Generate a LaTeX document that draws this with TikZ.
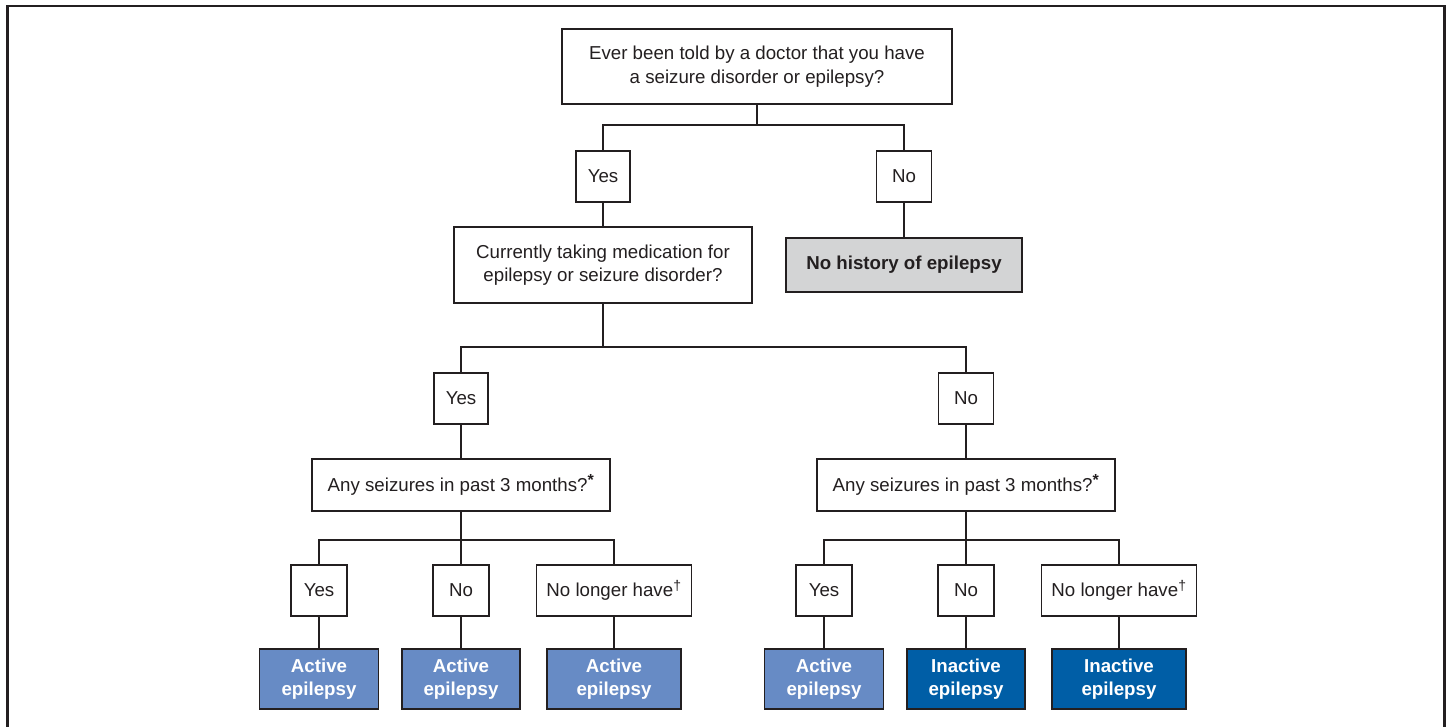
\documentclass[tikz,border=0pt]{standalone}
\usepackage{fontspec}
\setmainfont{Liberation Sans}
\definecolor{inkc}{RGB}{35,31,32}
\definecolor{actc}{RGB}{103,139,197}
\definecolor{inactc}{RGB}{0,94,166}
\definecolor{grayc}{RGB}{211,212,213}
\newcommand{\astmark}{\textsuperscript{\fontsize{16}{16}\selectfont\bfseries *}}
\newcommand{\dagmark}{\textsuperscript{\fontsize{14}{14}\selectfont †}}
\tikzset{
  box/.style={draw=inkc, line width=1.6pt, fill=white, text=inkc, inner sep=0pt, align=center,
    font=\fontsize{18.7}{23.5}\selectfont},
  actbox/.style={box, fill=actc, text=white, font=\fontsize{18.7}{22.5}\selectfont\bfseries},
  inactbox/.style={box, fill=inactc, text=white, font=\fontsize{18.7}{22.5}\selectfont\bfseries},
  graybox/.style={box, fill=grayc, font=\fontsize{18.7}{23.5}\selectfont\bfseries},
  conn/.style={draw=inkc, line width=1.6pt},
  frameline/.style={draw=inkc, line width=2.6pt}
}
\begin{document}
\begin{tikzpicture}[x=1pt,y=-1pt]
\useasboundingbox (0,0) rectangle (1447,727);
\fill[white] (0,0) rectangle (1447,727);
\draw[frameline] (7.3,727) -- (7.3,6) -- (1444.5,6) -- (1444.5,727);

% nodes
\node[box, minimum width=390pt, minimum height=75pt] (q1) at (757,66.5) {Ever been told by a doctor that you have\\a seizure disorder or epilepsy?};
\node[box, minimum width=54pt, minimum height=51pt] (y1) at (603,176.5) {Yes};
\node[box, minimum width=55pt, minimum height=51pt] (n1) at (904,176.5) {No};
\node[box, minimum width=298pt, minimum height=76pt] (q2) at (603,265) {Currently taking medication for\\epilepsy or seizure disorder?};
\node[graybox, minimum width=236pt, minimum height=54pt] (nh) at (904,265) {No history of epilepsy};
\node[box, minimum width=54pt, minimum height=51pt] (y2) at (461,398.5) {Yes};
\node[box, minimum width=55pt, minimum height=51pt] (n2) at (966,398.5) {No};
\node[box, minimum width=298pt, minimum height=52pt] (q3l) at (461,485) {Any seizures in past 3 months?\astmark};
\node[box, minimum width=298pt, minimum height=52pt] (q3r) at (966,485) {Any seizures in past 3 months?\astmark};

\node[box, minimum width=56pt, minimum height=51pt] (ly) at (319,590.5) {Yes};
\node[box, minimum width=56pt, minimum height=51pt] (ln) at (461,590.5) {No};
\node[box, minimum width=155pt, minimum height=51pt] (ll) at (614,590.5) {No longer have\dagmark};
\node[box, minimum width=56pt, minimum height=51pt] (ry) at (824,590.5) {Yes};
\node[box, minimum width=56pt, minimum height=51pt] (rn) at (966,590.5) {No};
\node[box, minimum width=155pt, minimum height=51pt] (rl) at (1119,590.5) {No longer have\dagmark};

\node[actbox, minimum width=119pt, minimum height=60pt] (a1) at (319,679) {Active\\epilepsy};
\node[actbox, minimum width=118pt, minimum height=60pt] (a2) at (461,679) {Active\\epilepsy};
\node[actbox, minimum width=134pt, minimum height=60pt] (a3) at (614,679) {Active\\epilepsy};
\node[actbox, minimum width=119pt, minimum height=60pt] (a4) at (824,679) {Active\\epilepsy};
\node[inactbox, minimum width=118pt, minimum height=60pt] (i1) at (966,679) {Inactive\\epilepsy};
\node[inactbox, minimum width=134pt, minimum height=60pt] (i2) at (1119,679) {Inactive\\epilepsy};

% junctions
\coordinate (j1) at (757,125);
\coordinate (j2) at (603,347);
\coordinate (j3) at (461,540);
\coordinate (j4) at (966,540);

% connectors
\draw[conn] (q1.south) -- (j1);
\draw[conn] (y1.north) |- (j1) -| (n1.north);
\draw[conn] (y1.south) -- (q2.north);
\draw[conn] (n1.south) -- (nh.north);
\draw[conn] (q2.south) -- (j2);
\draw[conn] (y2.north) |- (j2) -| (n2.north);
\draw[conn] (y2.south) -- (q3l.north);
\draw[conn] (n2.south) -- (q3r.north);
\draw[conn] (q3l.south) -- (j3);
\draw[conn] (ly.north) |- (j3) -| (ll.north);
\draw[conn] (j3) -- (ln.north);
\draw[conn] (q3r.south) -- (j4);
\draw[conn] (ry.north) |- (j4) -| (rl.north);
\draw[conn] (j4) -- (rn.north);
\draw[conn] (ly.south) -- (a1.north);
\draw[conn] (ln.south) -- (a2.north);
\draw[conn] (ll.south) -- (a3.north);
\draw[conn] (ry.south) -- (a4.north);
\draw[conn] (rn.south) -- (i1.north);
\draw[conn] (rl.south) -- (i2.north);
\end{tikzpicture}
\end{document}
